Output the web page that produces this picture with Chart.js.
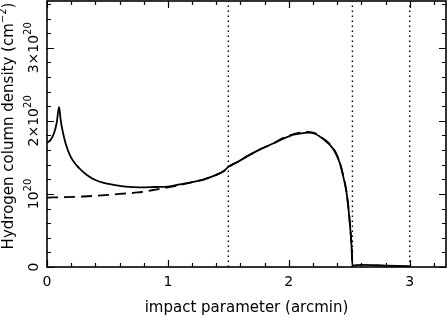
<!DOCTYPE html>
<html>
<head>
<meta charset="utf-8">
<script src="https://cdn.jsdelivr.net/npm/chart.js@4/dist/chart.umd.min.js"></script>
<style>
  body { margin: 0; background: #fff; }
  #wrap { width: 447px; height: 318px; }
</style>
</head>
<body>
<div id="wrap"><canvas id="chartNH" width="447" height="318"></canvas></div>
<script>
// impact parameter (arcmin) / column density (units of 1e20 cm^-2)
const solidX = [0, 0.03, 0.058, 0.08, 0.10, 0.113, 0.127, 0.154, 0.195, 0.245, 0.28, 0.33, 0.40, 0.47, 0.55,
  0.65, 0.77, 0.90, 1.00, 1.10, 1.20, 1.30, 1.40, 1.46, 1.50, 1.58, 1.65, 1.75, 1.87, 1.96, 2.04, 2.10,
  2.16, 2.22, 2.256, 2.30, 2.34, 2.38, 2.42, 2.45, 2.477, 2.498, 2.512, 2.52, 2.526, 2.60, 2.80, 3.00];
const solidY = [1.70, 1.74, 1.83, 1.97, 2.19, 2.01, 1.88, 1.69, 1.51, 1.39, 1.33, 1.26, 1.19, 1.15, 1.125,
  1.10, 1.09, 1.095, 1.10, 1.13, 1.16, 1.20, 1.26, 1.31, 1.37, 1.44, 1.51, 1.60, 1.69, 1.76, 1.81, 1.83,
  1.84, 1.82, 1.785, 1.73, 1.67, 1.58, 1.43, 1.24, 1.02, 0.72, 0.45, 0.25, 0.02, 0.03, 0.02, 0.01];

const dashedX = [0, 0.15, 0.30, 0.45, 0.60, 0.75, 0.90, 1.00, 1.10, 1.20, 1.30, 1.40, 1.46, 1.50, 1.58, 1.65,
  1.75, 1.87, 1.96, 2.04, 2.10, 2.16, 2.22, 2.256, 2.30, 2.34, 2.38, 2.42, 2.45, 2.477, 2.498, 2.512,
  2.52, 2.526];
const dashedY = [0.95, 0.955, 0.965, 0.98, 1.00, 1.02, 1.06, 1.09, 1.12, 1.16, 1.20, 1.26, 1.31, 1.37, 1.44, 1.51,
  1.60, 1.69, 1.77, 1.82, 1.84, 1.85, 1.83, 1.79, 1.74, 1.68, 1.59, 1.44, 1.25, 1.03, 0.73, 0.46,
  0.26, 0.0];

const markerX = [1.5, 2.526, 3.0];

const xTickValues = [0, 1, 2, 3];
const xTickLabels = ["0", "1", "2", "3"];
const yTickValues = [0, 1, 2, 3];
const yTickLabels = ["0", "10", "2\u00d710", "3\u00d710"];
const yTickExps = ["", "20", "20", "20"];

const X_MAX = 3.3;
const Y_MAX = 3.64;
const FONT = "DejaVu Sans";

function pts(xs, ys) {
  return xs.map((x, i) => ({ x: x, y: ys[i] }));
}

// frame, inward ticks, rotated labels (PGPLOT style)
const boxPlugin = {
  id: "box",
  afterDraw(chart) {
    const ctx = chart.ctx;
    const a = chart.chartArea;
    const sx = chart.scales.x;
    const sy = chart.scales.y;
    ctx.save();
    ctx.strokeStyle = "#000";
    ctx.fillStyle = "#000";

    // ticks
    ctx.lineWidth = 1.2;
    ctx.beginPath();
    for (let i = 0; i <= Math.round(X_MAX / 0.2); i++) {
      const v = i * 0.2;
      const len = Math.abs(v - Math.round(v)) < 1e-6 ? 7 : 4;
      const px = Math.round(sx.getPixelForValue(v)) + 0.5;
      ctx.moveTo(px, a.bottom); ctx.lineTo(px, a.bottom - len);
      ctx.moveTo(px, a.top); ctx.lineTo(px, a.top + len);
    }
    for (let i = 0; i <= Math.round(Y_MAX / 0.2); i++) {
      const v = i * 0.2;
      const len = Math.abs(v - Math.round(v)) < 1e-6 ? 7 : 4;
      const py = Math.round(sy.getPixelForValue(v)) + 0.5;
      ctx.moveTo(a.left, py); ctx.lineTo(a.left + len, py);
      ctx.moveTo(a.right, py); ctx.lineTo(a.right - len, py);
    }
    ctx.stroke();

    // frame
    ctx.lineWidth = 1.6;
    ctx.strokeRect(a.left, a.top, a.right - a.left, a.bottom - a.top);

    // x tick labels
    ctx.font = "14px '" + FONT + "'";
    ctx.textAlign = "center";
    ctx.textBaseline = "alphabetic";
    xTickValues.forEach((v, i) => {
      ctx.fillText(xTickLabels[i], sx.getPixelForValue(v), 286);
    });

    // x title
    ctx.font = "15px '" + FONT + "'";
    ctx.fillText("impact parameter (arcmin)", (a.left + a.right) / 2, 312);

    // y tick labels, rotated
    yTickValues.forEach((v, i) => {
      const py = sy.getPixelForValue(v);
      ctx.save();
      ctx.translate(38, py);
      ctx.rotate(-Math.PI / 2);
      ctx.font = "14px '" + FONT + "'";
      const w1 = ctx.measureText(yTickLabels[i]).width;
      ctx.font = "10px '" + FONT + "'";
      const w2 = yTickExps[i] ? ctx.measureText(yTickExps[i]).width : 0;
      const x0 = -(w1 + w2) / 2;
      ctx.textAlign = "left";
      ctx.font = "14px '" + FONT + "'";
      ctx.fillText(yTickLabels[i], x0, 0);
      if (w2) {
        ctx.font = "10px '" + FONT + "'";
        ctx.fillText(yTickExps[i], x0 + w1, -7);
      }
      ctx.restore();
    });

    // y title, rotated
    ctx.save();
    ctx.translate(13, (a.top + a.bottom) / 2 - 8);
    ctx.rotate(-Math.PI / 2);
    ctx.textAlign = "left";
    const main = "Hydrogen column density (cm";
    ctx.font = "15px '" + FONT + "'";
    const wm = ctx.measureText(main).width;
    const wc = ctx.measureText(")").width;
    ctx.font = "10px '" + FONT + "'";
    const ws = ctx.measureText("\u22122").width;
    const start = -(wm + ws + wc) / 2;
    ctx.font = "15px '" + FONT + "'";
    ctx.fillText(main, start, 0);
    ctx.fillText(")", start + wm + ws, 0);
    ctx.font = "10px '" + FONT + "'";
    ctx.fillText("\u22122", start + wm, -7);
    ctx.restore();

    ctx.restore();
  },
};

const markerSets = markerX.map((mx) => ({
  data: [{ x: mx, y: 0 }, { x: mx, y: Y_MAX }],
  borderColor: "#000",
  borderWidth: 1.4,
  borderDash: [1.5, 3.5],
  cubicInterpolationMode: "default",
}));

new Chart(document.getElementById("chartNH"), {
  type: "line",
  data: {
    datasets: [
      {
        data: pts(solidX, solidY),
        borderColor: "#000",
        borderWidth: 1.8,
        cubicInterpolationMode: "monotone",
      },
      {
        data: pts(dashedX, dashedY),
        borderColor: "#000",
        borderWidth: 1.8,
        borderDash: [11, 6],
        cubicInterpolationMode: "monotone",
      },
      ...markerSets,
    ],
  },
  options: {
    responsive: false,
    animation: false,
    layout: { padding: { top: 1, right: 1, left: 0, bottom: 0 } },
    elements: { point: { radius: 0 } },
    plugins: { legend: { display: false }, tooltip: { enabled: false } },
    scales: {
      x: {
        type: "linear",
        min: 0,
        max: X_MAX,
        ticks: { display: false },
        grid: { display: false },
        border: { display: false },
        afterFit: (s) => { s.height = 51; },
      },
      y: {
        min: 0,
        max: Y_MAX,
        ticks: { display: false },
        grid: { display: false },
        border: { display: false },
        afterFit: (s) => { s.width = 47; },
      },
    },
  },
  plugins: [boxPlugin],
});
</script>
</body>
</html>
